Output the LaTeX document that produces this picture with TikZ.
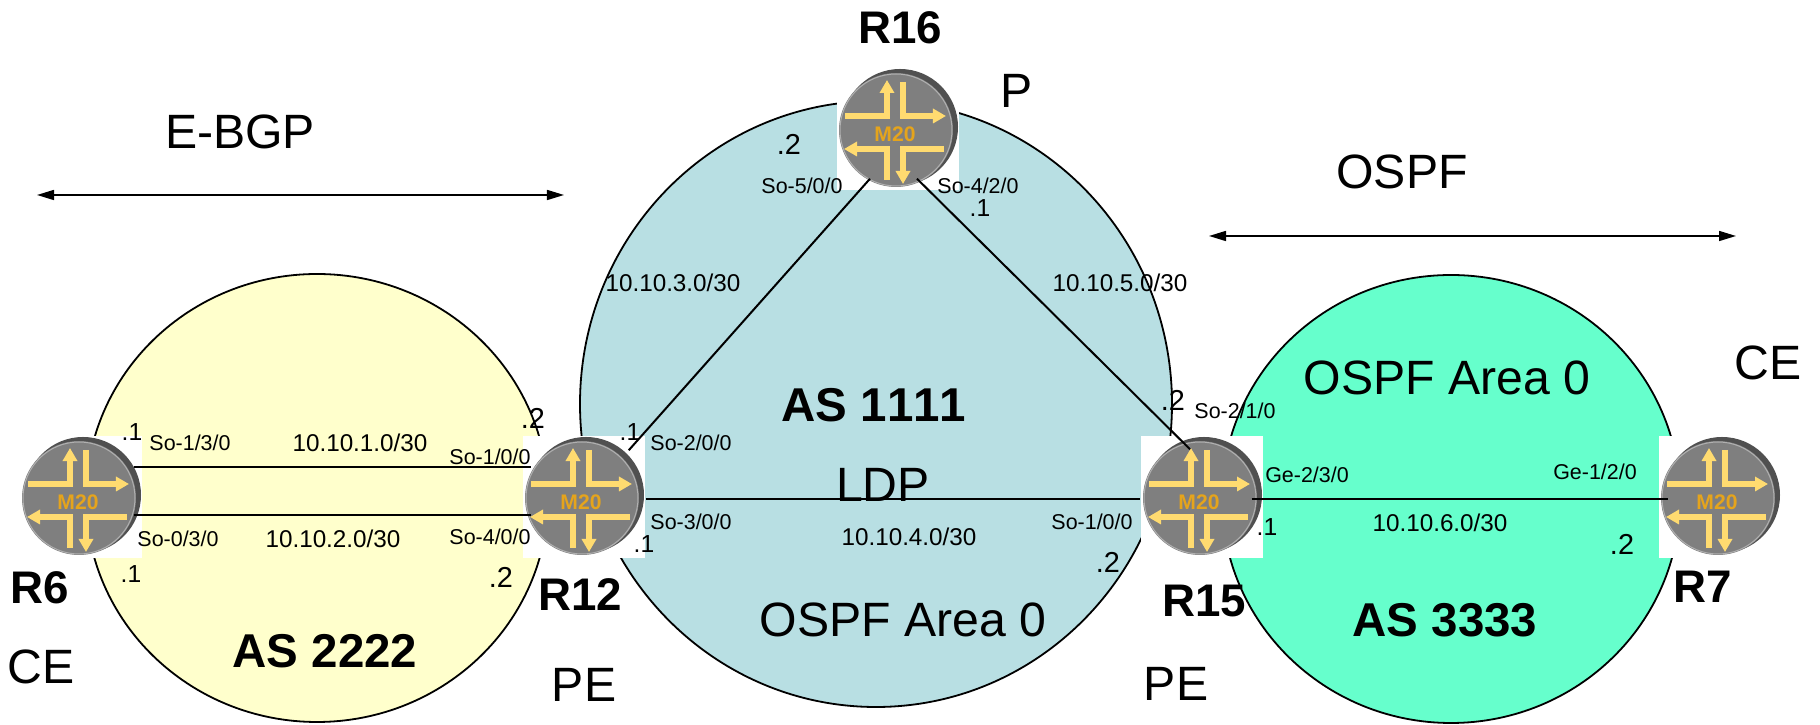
\documentclass[tikz,border=0pt]{standalone}
\usepackage{fontspec}
\setmainfont[Kerning=Off]{Liberation Sans}
\usetikzlibrary{arrows.meta}
\definecolor{asyellow}{HTML}{FFFFCC}
\definecolor{asblue}{HTML}{B8DFE3}
\definecolor{asgreen}{HTML}{66FFCC}
\definecolor{routerface}{HTML}{7F7F7F}
\definecolor{routerback}{HTML}{505050}
\definecolor{routerrim}{HTML}{B0B0B0}
\definecolor{routerarrow}{HTML}{FFDB70}
\definecolor{routertext}{HTML}{E5A41C}
\tikzset{
  routerbox/.style={fill=white,minimum size=1.22cm,inner sep=0pt},
  aszone/.style={draw=black,line width=.018cm},
  link/.style={draw=black,line width=.02cm},
  span/.style={draw=black,line width=.015cm,{Triangle[length=.17cm,width=.1cm]}-{Triangle[length=.17cm,width=.1cm]}},
  iflabel/.style={font=\fontsize{6.1pt}{7pt}\selectfont,inner sep=0pt},
  netlabel/.style={font=\fontsize{6.9pt}{8pt}\selectfont,inner sep=0pt},
  hostone/.style={font=\fontsize{7pt}{8pt}\selectfont,inner sep=0pt},
  hosttwo/.style={font=\fontsize{8.2pt}{9pt}\selectfont,inner sep=0pt},
  rname/.style={font=\fontsize{13pt}{15pt}\selectfont\bfseries,inner sep=0pt},
  bigbold/.style={font=\fontsize{13.5pt}{15pt}\selectfont\bfseries,inner sep=0pt},
  bigword/.style={font=\fontsize{13.7pt}{15pt}\selectfont,inner sep=0pt},
  turn/.style={line width=.055cm,draw=routerarrow,-{Triangle[length=.13cm,width=.14cm]}},
  router/.pic={
    \fill[routerback] (2,-2) circle (58);
    \fill[routerface] (-2,1) circle (57);
    \draw[routerrim,line width=.01cm] (-2,1) circle (56);
    \draw[turn] (-53,-13) -- (-11,-13) -- (-11,-49);
    \draw[turn] (5,-47) -- (5,-13) -- (48,-13);
    \draw[turn] (-11,51) -- (-11,20) -- (-54,20);
    \draw[turn] (46,20) -- (5,20) -- (5,55);
    \node[font=\fontsize{6pt}{7pt}\selectfont\bfseries,text=routertext,inner sep=0pt] (m20) at(-3,5){M20};
  }
}
\begin{document}
\begin{tikzpicture}[x=.01cm,y=-.01cm]
  \useasboundingbox (0,0) rectangle (1820,725);
  % AS zones
  \draw[aszone,fill=asyellow] (317,498) ellipse (231 and 224);
  \draw[aszone,fill=asblue] (876,404) ellipse (296 and 303);
  \draw[aszone,fill=asgreen] (1451,499) ellipse (229 and 224);

  % routers
  \node[routerbox] (R6) at(81,497){};
  \node[routerbox] (R12) at(584,497){};
  \node[routerbox] (R16) at(898,129){};
  \node[routerbox] (R15) at(1202,497){};
  \node[routerbox] (R7) at(1720,497){};
  \pic (iconR6) at(R6) {router};
  \pic (iconR12) at(R12) {router};
  \pic (iconR16) at(R16) {router};
  \pic (iconR15) at(R15) {router};
  \pic (iconR7) at(R7) {router};

  % links
  \draw[link] ([shift={(-9,-30)}]R6.east) -- ([shift={(9,-30)}]R12.west);
  \draw[link] ([shift={(-9,18)}]R6.east) -- ([shift={(9,18)}]R12.west);
  \draw[link] ([shift={(0,2)}]R12.east) -- ([shift={(0,2)}]R15.west);
  \draw[link] ([shift={(-12,2)}]R15.east) -- ([shift={(10,2)}]R7.west);
  \draw[link] ([shift={(-17,15)}]R12.north east) -- ([shift={(-28,-12)}]R16.south);
  \draw[link] ([shift={(19,-12)}]R16.south) -- ([shift={(-12,14)}]R15.north);

  % protocol spans
  \coordinate (ebgpL) at(37,195);
  \coordinate (ebgpR) at(564,195);
  \coordinate (ospfL) at(1209,236);
  \coordinate (ospfR) at(1736,236);
  \draw[span] (ebgpL) -- (ebgpR);
  \draw[span] (ospfL) -- (ospfR);
  \node[bigword] (ebgp) at(240,132){E-BGP};
  \node[bigword] (ospf) at(1402,172){OSPF};

  % router names and roles
  \node[rname] (nameR16) at(900,28){R16};
  \node[rname] (nameR6) at(40,588){R6};
  \node[rname] (nameR12) at(580,595){R12};
  \node[rname] (nameR15) at(1204,601){R15};
  \node[rname] (nameR7) at(1703,587){R7};
  \node[bigword] (roleR16) at(1017,91){P};
  \node[bigword] (roleR6) at(41,667){CE};
  \node[bigword] (roleR12) at(584,685){PE};
  \node[bigword] (roleR15) at(1176,684){PE};
  \node[bigword] (roleR7) at(1768,363){CE};

  % zone texts
  \node[bigbold] (as1111) at(874,405){AS 1111};
  \node[bigbold] (as2222) at(325,651){AS 2222};
  \node[bigbold] (as3333) at(1445,620){AS 3333};
  \node[bigword] (ldp) at(883,485){LDP};
  \node[bigword] (areaBlue) at(903,620){OSPF Area 0};
  \node[bigword] (areaGreen) at(1447,378){OSPF Area 0};

  % networks
  \node[netlabel] (net1) at(360,443){10.10.1.0/30};
  \node[netlabel] (net2) at(333,539){10.10.2.0/30};
  \node[netlabel] (net3) at(673,283){10.10.3.0/30};
  \node[netlabel] (net4) at(909,537){10.10.4.0/30};
  \node[netlabel] (net5) at(1120,283){10.10.5.0/30};
  \node[netlabel] (net6) at(1440,523){10.10.6.0/30};

  % interfaces
  \node[iflabel] (ifRa) at(190,443){So-1/3/0};
  \node[iflabel] (ifRb) at(178,539){So-0/3/0};
  \node[iflabel] (ifLa) at(490,457){So-1/0/0};
  \node[iflabel] (ifLb) at(490,537){So-4/0/0};
  \node[iflabel] (ifPa) at(691,443){So-2/0/0};
  \node[iflabel] (ifPb) at(691,522){So-3/0/0};
  \node[iflabel] (ifTa) at(802,186){So-5/0/0};
  \node[iflabel] (ifTb) at(978,186){So-4/2/0};
  \node[iflabel] (ifEa) at(1235,411){So-2/1/0};
  \node[iflabel] (ifEb) at(1092,522){So-1/0/0};
  \node[iflabel] (ifEc) at(1307,475){Ge-2/3/0};
  \node[iflabel] (ifCa) at(1595,472){Ge-1/2/0};

  % host addresses
  \node[hostone] (hostA) at(132,432){.1};
  \node[hostone] (hostB) at(131,574){.1};
  \node[hosttwo] (hostC) at(533,418){.2};
  \node[hosttwo] (hostD) at(501,577){.2};
  \node[hostone] (hostE) at(630,432){.1};
  \node[hostone] (hostF) at(644,544){.1};
  \node[hosttwo] (hostG) at(789,144){.2};
  \node[hostone] (hostH) at(980,208){.1};
  \node[hosttwo] (hostI) at(1173,400){.2};
  \node[hosttwo] (hostJ) at(1108,562){.2};
  \node[hostone] (hostK) at(1267,527){.1};
  \node[hosttwo] (hostL) at(1622,544){.2};
\end{tikzpicture}
\end{document}
